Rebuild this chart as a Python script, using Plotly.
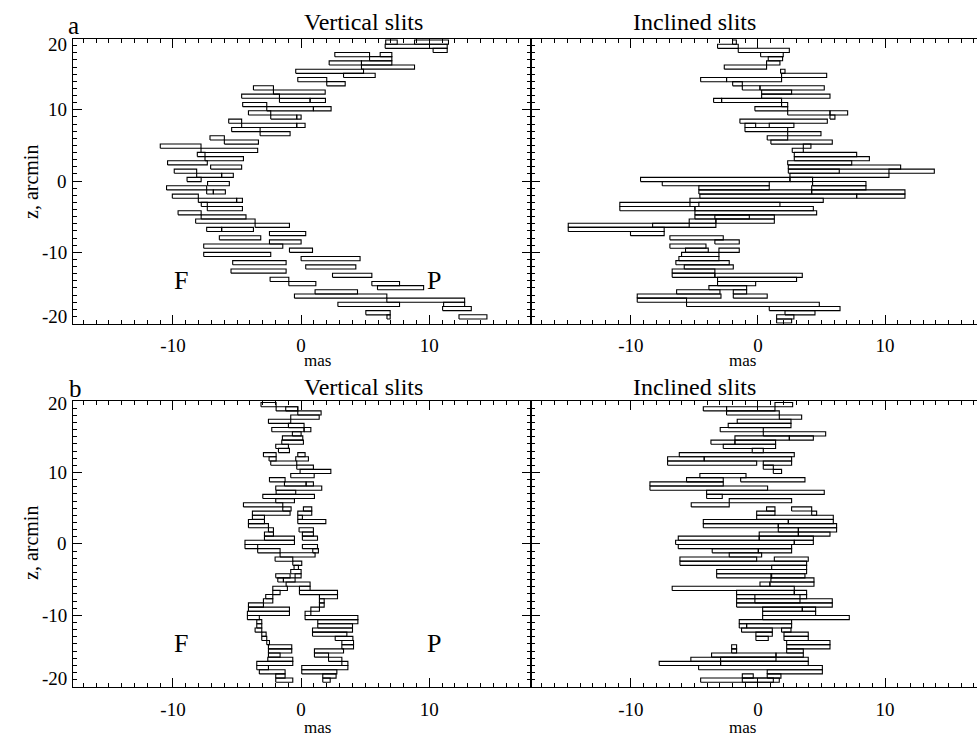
import plotly.graph_objects as go

# Slit rows (arcmin), shared by all four panels
z_rows = [19.49, 18.91, 18.33, 17.74, 17.16, 16.57, 15.99, 15.40, 14.82, 14.23,
          13.65, 13.07, 12.48, 11.90, 11.31, 10.73, 10.14, 9.56, 8.98, 8.39,
          7.81, 7.22, 6.64, 6.05, 5.47, 4.89, 4.30, 3.72, 3.13, 2.55,
          1.96, 1.38, 0.80, 0.21, -0.37, -0.96, -1.54, -2.13, -2.71, -3.29,
          -3.88, -4.46, -5.05, -5.63, -6.22, -6.80, -7.38, -7.97, -8.55, -9.14,
          -9.72, -10.31, -10.89, -11.47, -12.06, -12.64, -13.23, -13.81, -14.40, -14.98,
          -15.56, -16.15, -16.73, -17.32, -17.90, -18.49, -19.07, -19.66]

# (a) vertical slits: row index, left edge (mas), right edge (mas)
av_row = [0, 0, 1, 2, 3, 3, 4, 5, 5, 6, 7, 8, 9, 10, 11, 12, 13, 14, 14, 15,
          16, 16, 17, 18, 18, 19, 20, 20, 21, 22, 23, 24, 25, 26, 27, 28, 29, 30, 31, 32,
          32, 33, 34, 35, 36, 36, 37, 38, 38, 39, 40, 41, 42, 43, 44, 45, 45, 46, 47, 48,
          49, 50, 51, 52, 53, 54, 55, 56, 57, 58, 58, 59, 60, 61, 62, 63, 63, 64, 65, 66, 66]
av_lo = [6.6, 8.85, 6.56, 10.3, 2.63, 6.17, 5.34, 2.19, 4.71, 4.71, -0.42, 3.31, -0.26, 2.0, -3.72, -2.16, -4.64, -1.69, 0.7, -4.56,
         -2.68, 0.96, -4.11, -2.37, -0.34, -5.65, -4.64, -0.34, -5.42, -3.2, -7.11, -5.99, -10.99, -7.81, -8.1, -7.5, -10.42, -7.06, -9.9, -8.15,
         -6.2, -8.9, -7.3, -10.5, -7.37, -6.85, -10.05, -8.02, -5.03, -7.79, -7.32, -9.6, -7.8, -8.23, -3.59, -7.37, -6.2, -2.47, -6.38, -2.47,
         -7.6, -0.91, -7.6, 0.0, -5.34, 0.36, -5.47, 2.45, -2.42, 5.52, -0.96, 5.96, 1.09, -0.52, 6.69, 2.87, 11.12, 11.04, 5.05, 12.32, 6.7]
av_hi = [7.5, 11.5, 11.4, 11.4, 5.34, 7.08, 7.08, 4.71, 7.08, 8.85, 4.87, 5.78, 2.0, 3.44, -2.16, 1.88, -1.69, 0.7, 1.9, -2.68,
         0.96, 2.34, -2.37, -0.34, 0.0, -4.64, -0.34, 0.31, -3.2, -0.86, -5.99, -3.33, -7.81, -3.39, -7.5, -4.5, -7.32, -4.64, -8.15, -6.2,
         -5.29, -7.8, -5.6, -7.37, -6.85, -5.91, -8.02, -5.03, -4.58, -7.32, -4.58, -7.8, -4.3, -3.59, -0.91, -6.2, -3.72, 0.36, -3.15, 0.0,
         -1.43, 0.89, -2.37, 4.6, -1.17, 4.27, -1.17, 5.52, -0.96, 7.68, 1.15, 9.56, 4.4, 6.69, 12.76, 7.68, 12.76, 13.28, 6.95, 14.5, 6.95]

# (a) inclined slits
ai_row = [0, 1, 2, 3, 4, 5, 6, 7, 8, 9, 9, 10, 11, 11, 12, 13, 14, 14, 15, 16,
          17, 17, 18, 19, 20, 20, 21, 22, 23, 24, 25, 26, 27, 28, 29, 30, 31, 31, 32, 33,
          33, 34, 34, 35, 35, 36, 36, 37, 37, 38, 39, 39, 40, 40, 41, 42, 42, 43, 43, 44,
          44, 45, 46, 47, 48, 49, 50, 50, 51, 52, 53, 54, 55, 56, 56, 57, 58, 59, 60, 60,
          61, 61, 62, 63, 64, 65, 66, 67]
ai_lo = [-2.0, -3.18, -1.55, 0.21, 0.81, 0.68, -2.65, 1.78, 1.86, -4.51, -2.47, -1.99, -1.23, 0.16, 0.29, 0.29, -3.49, -2.86, 1.86, -0.24,
         2.34, 5.67, 5.67, -1.42, -1.02, 0.89, -1.02, 2.34, 0.73, 1.02, 3.57, 2.7, 2.86, 2.86, 2.34, 2.39, 2.39, 10.31, 2.52, -9.24,
         2.52, -7.53, 4.3, -4.65, 4.23, -4.65, 4.23, -4.57, 7.77, -5.35, -10.87, -4.65, -10.87, -4.96, -4.96, -4.96, -3.39, -5.41, -3.31, -14.93,
         -8.29, -14.93, -10.03, -6.93, -3.39, -6.93, -5.7, -3.07, -6.01, -6.22, -6.46, -5.8, -6.75, -6.75, -3.39, -3.18, -3.18, -3.86, -6.4, -1.94,
         -9.5, -1.94, -9.5, -5.62, 0.89, 2.13, 1.47, 1.47]
ai_hi = [-1.7, -1.55, 2.47, 1.99, 1.94, 1.73, 0.68, 2.13, 5.41, -2.47, 1.86, -1.23, 0.16, 5.22, 2.65, 5.67, -2.86, 1.86, 2.34, 2.34,
         5.67, 7.06, 6.06, 5.46, -0.18, 2.83, 2.34, 4.96, 2.34, 5.85, 4.17, 3.57, 7.77, 8.77, 7.38, 11.23, 6.4, 13.88, 10.31, 2.52,
         4.3, 0.89, 8.5, 0.89, 8.5, 4.23, 11.57, 7.77, 11.57, 5.14, -5.35, 1.73, -4.96, 4.36, 4.62, -0.68, 1.29, -3.31, 1.29, -5.41,
         -3.31, -7.38, -7.38, -2.73, -1.47, -4.09, -3.91, -1.47, -3.07, -3.07, -2.26, -1.94, -3.39, -3.39, 3.49, 3.04, -0.18, -0.89, -2.99, -0.89,
         -2.91, 0.73, -5.62, 4.83, 6.46, 4.49, 2.83, 2.65]

# (b) vertical slits
bv_row = [0, 1, 1, 2, 3, 4, 5, 6, 6, 7, 8, 9, 10, 11, 12, 12, 13, 13, 14, 15,
          16, 17, 18, 19, 19, 20, 21, 22, 23, 24, 25, 25, 26, 26, 27, 27, 28, 28, 29, 30,
          30, 31, 31, 32, 32, 33, 34, 34, 35, 35, 36, 37, 38, 39, 40, 41, 41, 42, 42, 43,
          44, 44, 45, 45, 46, 46, 47, 47, 48, 48, 49, 49, 50, 50, 51, 51, 52, 52, 53, 53,
          54, 54, 55, 55, 56, 56, 57, 57, 58, 58, 59, 59, 60, 60, 61, 61, 62, 62, 63, 63,
          64, 64, 65, 65, 66, 66]
bv_lo = [-3.13, -1.95, -1.2, -0.26, -0.81, -2.55, -0.99, -2.29, 0.23, -0.68, -1.46, -1.51, -1.98, -1.77, -2.94, -0.26, -2.5, -0.42, -2.37, -0.34,
         -0.08, -0.81, -2.47, -1.3, 0.39, -1.98, -1.95, -2.99, -1.98, -4.5, -1.43, 0.18, -3.8, -0.26, -3.8, -0.26, -4.11, -0.26, -4.11, -2.55,
         -0.16, -2.86, 0.1, -2.86, 0.1, -4.38, -4.38, 0.1, -3.39, 0.91, -1.64, -2.03, -0.65, -0.55, -0.81, -1.98, -0.47, -1.82, -1.38, -1.17,
         -2.21, -0.13, -2.21, -0.13, -2.76, 1.43, -2.94, 1.43, -4.11, 1.43, -4.11, 0.76, -4.19, 0.31, -4.19, 0.31, -3.46, 1.3, -3.46, 1.3,
         -3.59, 0.89, -3.07, 0.89, -3.07, 2.66, -2.68, 3.18, -2.55, 3.18, -2.55, 1.04, -2.55, 1.04, -2.6, 2.14, -3.46, 3.18, -3.46, 0.05,
         -3.26, 0.05, -1.98, 1.69, -1.98, 1.69]
bv_hi = [-1.95, -0.26, -0.26, 1.56, 1.41, -0.81, 0.23, 0.23, 0.76, 0.0, 0.13, 0.18, -0.99, -0.91, -1.95, 0.31, -1.95, 0.57, -0.34, 0.96,
         2.32, 1.02, -1.25, 0.39, 0.96, 1.61, -0.42, 1.04, -0.52, -1.43, -0.78, 0.83, -0.86, 0.83, -2.86, 0.1, -2.86, 1.93, -2.55, -2.16,
         0.96, -2.16, 0.96, -0.52, 1.28, -0.52, -3.39, 1.28, -1.64, 1.35, 1.09, -0.65, 0.05, -0.21, 0.0, -0.86, 0.0, -1.38, -0.47, 0.7,
         -1.07, 0.7, -1.64, 2.84, -2.21, 2.84, -2.21, 1.8, -2.94, 1.8, -0.91, 1.43, -0.91, 0.76, -3.26, 4.43, -3.07, 4.43, -3.07, 4.01,
         -3.07, 4.01, -2.73, 3.57, -2.68, 4.04, -2.47, 4.09, -0.73, 4.09, -0.73, 3.31, -1.64, 2.14, -0.65, 3.18, -0.65, 3.65, -2.55, 3.65,
         -1.25, 2.79, -1.25, 2.73, -0.65, 2.27]

# (b) inclined slits
bi_row = [0, 1, 1, 2, 3, 4, 5, 6, 7, 8, 8, 9, 9, 10, 11, 12, 13, 13, 14, 14,
          15, 16, 17, 18, 18, 19, 20, 21, 22, 23, 24, 25, 25, 26, 26, 27, 28, 28, 29, 29,
          30, 30, 31, 31, 32, 32, 33, 33, 34, 35, 35, 36, 37, 37, 38, 39, 40, 41, 41, 42,
          43, 43, 44, 45, 45, 46, 46, 47, 47, 48, 49, 49, 50, 51, 52, 53, 53, 54, 54, 55,
          55, 56, 56, 57, 58, 58, 59, 59, 60, 60, 61, 61, 62, 62, 63, 64, 65, 65, 66, 66]
bi_lo = [1.34, -4.3, -2.47, -2.47, 1.68, -1.63, -2.34, -2.97, 0.42, -1.81, 2.47, -3.7, -1.81, -2.73, -0.45, -6.19, -7.11, -4.23, -7.11, 0.42,
         0.42, 1.21, -4.57, -5.62, -1.36, -8.5, -8.5, -4.04, -4.04, -2.26, -5.25, 2.65, 0.68, -0.1, 4.23, -0.1, -4.3, 2.39, -4.3, 1.6,
         1.6, 3.18, 0.1, 3.18, -6.27, 0.1, -6.48, 2.86, -6.27, -3.6, 0.03, -2.26, -6.14, 1.29, -6.14, 1.08, -3.25, -3.25, 1.02, 1.02,
         0.16, 0.94, -6.75, -1.68, 2.86, -1.68, 3.31, -1.68, -0.24, -1.68, 0.37, 3.49, 0.37, 0.37, -1.47, -1.47, -0.89, -1.29, 1.86, -0.16,
         2.05, -0.16, 2.05, 2.26, -2.07, 2.26, -2.07, 2.26, -3.65, 1.42, -5.28, -2.94, -7.77, -2.94, -4.67, 0.73, -1.23, 0.73, -4.51, -1.23]
bi_hi = [2.73, -2.47, 1.34, 1.68, 3.44, 2.6, 2.6, 0.42, 5.33, 2.47, 4.36, -1.81, 1.39, 1.39, 0.42, 2.86, -4.23, 2.65, -0.1, 2.65,
         1.21, 1.86, -0.94, -2.73, 3.7, -2.73, 0.76, 5.22, -2.81, 2.65, -2.26, 4.23, 1.34, 1.34, 4.62, 5.93, 2.39, 5.93, 1.6, 6.19,
         3.18, 6.19, 3.18, 5.67, 0.1, 4.36, 2.86, 4.36, 2.65, 0.03, 2.65, 0.29, -0.1, 3.96, 3.83, 3.83, 3.83, 1.08, 3.7, 4.41,
         0.94, 4.41, 2.86, 2.86, 3.83, -0.24, 3.83, 5.85, 3.31, 5.85, 3.49, 4.54, 4.54, 7.19, 2.65, -0.89, 2.65, 1.13, 2.6, 1.13,
         3.96, 0.81, 3.96, 5.67, -1.68, 5.67, -1.68, 3.57, 1.42, 3.57, 1.42, 3.96, -2.94, 3.96, 5.07, 5.07, -0.37, 1.81, 1.21, 1.68]

# Axis tick labels
x_tickvals = [-10, 0, 10]
x_ticktext = ["-10", "0", "10"]
y_label_text = ["20", "10", "0", "-10", "-20"]

ROW_H = 0.585
FONT = "Liberation Serif, Times New Roman, serif"


def outline(rows, lo, hi):
    xs, ys = [], []
    for k, a, b in zip(rows, lo, hi):
        zc = z_rows[k]
        z0, z1 = zc - ROW_H / 2, zc + ROW_H / 2
        xs += [a, b, b, a, a, None]
        ys += [z0, z0, z1, z1, z0, None]
    return xs, ys


fig = go.Figure()
panels = [(av_row, av_lo, av_hi, "x", "y"),
          (ai_row, ai_lo, ai_hi, "x2", "y2"),
          (bv_row, bv_lo, bv_hi, "x3", "y3"),
          (bi_row, bi_lo, bi_hi, "x4", "y4")]
for rows, lo, hi, xa, ya in panels:
    xs, ys = outline(rows, lo, hi)
    fig.add_trace(go.Scatter(x=xs, y=ys, mode="lines", xaxis=xa, yaxis=ya,
                             line=dict(color="black", width=1.1),
                             hoverinfo="skip", showlegend=False))

W, H = 977, 738
left_dom = [73 / W, 530.5 / W]
right_dom = [530.5 / W, 1.0]
top_dom = [1 - 323.5 / H, 1 - 38.5 / H]
bot_dom = [1 - 686.8 / H, 1 - 401 / H]

minor = dict(tickmode="linear", tick0=0, dtick=1, ticks="inside", ticklen=4,
             tickcolor="black", tickwidth=1, showgrid=False)


def xaxis(domain, rng, anchor):
    return dict(domain=domain, range=rng, anchor=anchor, showline=True,
                linecolor="black", linewidth=1, mirror="ticks", ticks="inside",
                ticklen=9, tickwidth=1, tickcolor="black", tickmode="array",
                tickvals=x_tickvals, ticktext=x_ticktext, showgrid=False,
                zeroline=False, minor=minor, ticklabelstandoff=5,
                tickfont=dict(family=FONT, size=19, color="black"))


def yaxis(domain, anchor, mirror):
    return dict(domain=domain, range=[-20, 20], anchor=anchor, showline=True,
                linecolor="black", linewidth=1, mirror=mirror, ticks="inside",
                ticklen=9, tickwidth=1, tickcolor="black", tickmode="array",
                tickvals=[20, 10, 0, -10, -20], showticklabels=False,
                showgrid=False, zeroline=False, minor=minor)


fig.update_layout(
    width=W, height=H, margin=dict(l=0, r=0, t=0, b=0),
    paper_bgcolor="white", plot_bgcolor="white", showlegend=False,
    xaxis=xaxis(left_dom, [-17.8, 17.9], "y"),
    yaxis=yaxis(top_dom, "x", "ticks"),
    xaxis2=xaxis(right_dom, [-17.9, 17.24], "y2"),
    yaxis2=yaxis(top_dom, "x2", False),
    xaxis3=xaxis(left_dom, [-17.8, 17.9], "y3"),
    yaxis3=yaxis(bot_dom, "x3", "ticks"),
    xaxis4=xaxis(right_dom, [-17.9, 17.24], "y4"),
    yaxis4=yaxis(bot_dom, "x4", False),
)

ann = []


def text(x, y, s, size, xref="paper", yref="paper", **kw):
    ann.append(dict(x=x, y=y, xref=xref, yref=yref, text=s, showarrow=False,
                    font=dict(family=FONT, size=size, color="black"), **kw))


# Panel titles
for ytop in [1 - 22 / H, 1 - 387 / H]:
    text(302 / W, ytop, "Vertical slits", 24, yanchor="middle")
    text(758 / W, ytop, "Inclined slits", 24, yanchor="middle")

# x-axis titles
for ymas in [1 - 360 / H, 1 - 727 / H]:
    text(302 / W, ymas, "mas", 17, yanchor="middle")
    text(758 / W, ymas, "mas", 17, yanchor="middle")

text(66 / W, 1 - 25 / H, "a", 25, yanchor="middle")
text(67 / W, 1 - 388 / H, "b", 25, yanchor="middle")
text(18 / W, 1 - 182 / H, "z, arcmin", 20, textangle=-90, yanchor="middle")
text(18 / W, 1 - 543 / H, "z, arcmin", 20, textangle=-90, yanchor="middle")

# Y tick labels (end labels kept inside the frame)
for yref, pos in [("y", [19.1, 10, 0, -10, -19.0]), ("y3", [19.6, 10, 0, -10, -18.9])]:
    for lab, zv in zip(y_label_text, pos):
        text(69 / W, zv, lab, 19, yref=yref, xanchor="right", yanchor="middle")

# Direction markers
for xr, yr in [("x", "y"), ("x3", "y3")]:
    text(-9.35, -13.95, "F", 26, xref=xr, yref=yr, yanchor="middle")
    text(10.4, -13.95, "P", 26, xref=xr, yref=yr, yanchor="middle")

fig.update_layout(annotations=ann)
fig.write_html("out.html")
